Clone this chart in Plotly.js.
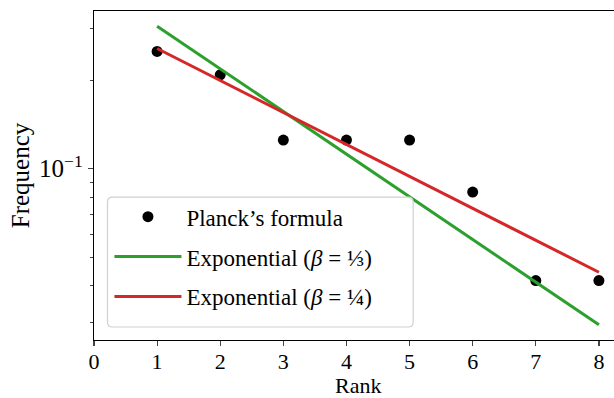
<!DOCTYPE html>
<html>
<head>
<meta charset="utf-8">
<script src="https://cdn.plot.ly/plotly-3.0.1.min.js"></script>
<style>
html,body{margin:0;padding:0;overflow:hidden;background:#fff;width:614px;height:398px;}
#chart{width:640px;height:398px;}
</style>
</head>
<body>
<div id="chart"></div>
<script>
const ranks = [1, 2, 3, 4, 5, 6, 7, 8];
const planck = [0.25, 0.2083, 0.125, 0.125, 0.125, 0.0833, 0.0417, 0.0417];
const expThird = [0.3047, 0.2183, 0.1564, 0.1121, 0.0803, 0.0575, 0.0412, 0.0295];
const expQuarter = [0.2558, 0.1992, 0.1552, 0.1208, 0.0941, 0.0733, 0.0571, 0.0445];
const xTicks = [0, 1, 2, 3, 4, 5, 6, 7, 8];
const yTickVals = [0.1];
const yTickText = ['10<sup>−1</sup>'];
const yMinor = [0.03, 0.04, 0.05, 0.06, 0.07, 0.08, 0.09, 0.2, 0.3];
const names = ["Planck’s formula", "Exponential (<i>β</i> = ⅓)", "Exponential (<i>β</i> = ¼)"];

const FONT = 'Liberation Serif, DejaVu Serif, serif';

const traces = [
  {x: ranks, y: planck, mode: 'markers', name: names[0], legendgroup: 'a',
   marker: {color: '#000', size: 11}},
  {x: ranks, y: expThird, mode: 'lines', name: names[1], legendgroup: 'b',
   line: {color: '#2ca02c', width: 3}},
  {x: ranks, y: expQuarter, mode: 'lines', name: names[2], legendgroup: 'c',
   line: {color: '#d62728', width: 3}}
];

const layout = {
  width: 640, height: 398,
  margin: {l: 93.5, r: 19, t: 10.7, b: 58},
  paper_bgcolor: '#fff', plot_bgcolor: '#fff',
  font: {family: FONT, size: 23, color: '#000'},
  showlegend: true,
  xaxis: {
    range: [0, 8.35], tickvals: xTicks, ticks: 'outside', ticklen: 5, tickwidth: 1.2,
    ticklabelstandoff: -4,
    showline: true, mirror: true, linecolor: '#000', linewidth: 1.3,
    showgrid: false, zeroline: false, automargin: false,
    tickfont: {family: FONT, size: 22}
  },
  yaxis: {
    type: 'log', range: [Math.log10(0.0262), Math.log10(0.343)],
    tickmode: 'array', tickvals: yTickVals, ticktext: yTickText,
    ticks: 'outside', ticklen: 5, tickwidth: 1.2,
    minor: {tickmode: 'array', tickvals: yMinor, ticks: 'outside', ticklen: 3, tickwidth: 1, showgrid: false},
    showline: true, mirror: true, linecolor: '#000', linewidth: 1.3,
    showgrid: false, zeroline: false, automargin: false,
    tickfont: {family: FONT, size: 25}
  },
  annotations: [
    {text: 'Rank', xref: 'paper', yref: 'paper', x: 0.5, y: -0.137, xanchor: 'center', yanchor: 'middle',
     showarrow: false, borderpad: 0, font: {family: FONT, size: 22}},
    {text: 'Frequency', xref: 'paper', yref: 'paper', x: -0.139, y: 0.5, xanchor: 'center', yanchor: 'middle',
     textangle: -90, showarrow: false, font: {family: FONT, size: 25}}
  ],
  legend: {
    x: 0.0293, y: 0.44, xanchor: 'left', yanchor: 'top',
    bgcolor: 'rgba(0,0,0,0)', borderwidth: 0,
    itemwidth: 67, tracegroupgap: 7, traceorder: 'grouped',
    font: {family: FONT, size: 23}
  },
  shapes: [{
    type: 'path', xref: 'paper', yref: 'paper', layer: 'above',
    path: 'M 0.0351 0.4343 L 0.5962 0.4343 Q 0.6057 0.4343 0.6057 0.4191 L 0.6057 0.0547 Q 0.6057 0.0395 0.5962 0.0395 L 0.0351 0.0395 Q 0.0256 0.0395 0.0256 0.0547 L 0.0256 0.4191 Q 0.0256 0.4343 0.0351 0.4343 Z',
    fillcolor: 'rgba(255,255,255,0.8)', line: {color: '#d0d0d0', width: 1.2}
  }]
};

Plotly.newPlot('chart', traces, layout, {staticPlot: true, displayModeBar: false});
</script>
</body>
</html>
